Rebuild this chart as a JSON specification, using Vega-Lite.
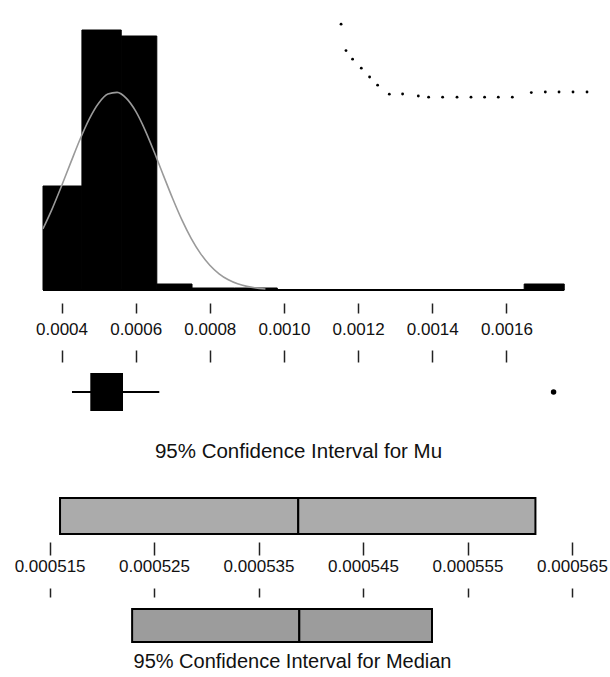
{
  "$schema": "https://vega.github.io/schema/vega-lite/v6.json",
  "background": "white",
  "padding": {"left": 14, "top": 20, "right": 0, "bottom": 0},
  "bounds": "flush",
  "spacing": 72,
  "config": {
    "view": {"stroke": null},
    "font": "Liberation Sans",
    "axis": {
      "labelFont": "Liberation Sans",
      "labelFontSize": 17,
      "labelColor": "#111111",
      "tickColor": "#222222",
      "tickWidth": 1.5,
      "grid": false,
      "domain": false,
      "labelFlush": false,
      "labelOverlap": false
    }
  },
  "datasets": {
    "histogram": [
      {"bin_start": 0.00035, "bin_end": 0.000455, "count": 52},
      {"bin_start": 0.000455, "bin_end": 0.000561, "count": 130},
      {"bin_start": 0.000561, "bin_end": 0.000657, "count": 127},
      {"bin_start": 0.000657, "bin_end": 0.000752, "count": 3},
      {"bin_start": 0.000752, "bin_end": 0.000867, "count": 1},
      {"bin_start": 0.000867, "bin_end": 0.000982, "count": 1},
      {"bin_start": 0.001648, "bin_end": 0.001756, "count": 3}
    ],
    "normal_fit": [
      {"x": 0.00035, "count": 30.6},
      {"x": 0.000375, "count": 40.7},
      {"x": 0.0004, "count": 52.0},
      {"x": 0.000425, "count": 63.8},
      {"x": 0.00045, "count": 75.4},
      {"x": 0.000475, "count": 85.6},
      {"x": 0.0005, "count": 93.4},
      {"x": 0.000525, "count": 98.0},
      {"x": 0.00055, "count": 98.8},
      {"x": 0.000575, "count": 95.8},
      {"x": 0.0006, "count": 89.4},
      {"x": 0.000625, "count": 80.1},
      {"x": 0.00065, "count": 69.0},
      {"x": 0.000675, "count": 57.2},
      {"x": 0.0007, "count": 45.6},
      {"x": 0.000725, "count": 34.9},
      {"x": 0.00075, "count": 25.7},
      {"x": 0.000775, "count": 18.2},
      {"x": 0.0008, "count": 12.4},
      {"x": 0.000825, "count": 8.1},
      {"x": 0.00085, "count": 5.1},
      {"x": 0.000875, "count": 3.1},
      {"x": 0.0009, "count": 1.8},
      {"x": 0.00095, "count": 0.5}
    ],
    "baseline": [
      {"from": 0.00035, "to": 0.001756, "level": 0}
    ],
    "trace": [
      {"x": 0.001154, "y": 132.9},
      {"x": 0.0011673, "y": 119.7},
      {"x": 0.0011851, "y": 115.4},
      {"x": 0.0012086, "y": 110.9},
      {"x": 0.001231, "y": 106.5},
      {"x": 0.0012526, "y": 102.4},
      {"x": 0.0012842, "y": 97.9},
      {"x": 0.00132, "y": 98.0},
      {"x": 0.0013624, "y": 97.0},
      {"x": 0.0013902, "y": 96.4},
      {"x": 0.001428, "y": 96.4},
      {"x": 0.0014668, "y": 96.4},
      {"x": 0.0015045, "y": 96.4},
      {"x": 0.0015412, "y": 96.4},
      {"x": 0.0015782, "y": 96.4},
      {"x": 0.001616, "y": 96.4},
      {"x": 0.0016672, "y": 98.7},
      {"x": 0.001705, "y": 99.0},
      {"x": 0.001742, "y": 99.0},
      {"x": 0.0017797, "y": 99.0},
      {"x": 0.0018175, "y": 99.0}
    ],
    "boxplot": [
      {"row": "Sample", "q1": 0.0004776, "q3": 0.0005658, "median": 0.000539, "lo": 0.0004282, "hi": 0.0006637}
    ],
    "outliers": [
      {"row": "Sample", "value": 0.0017273}
    ],
    "ci": [
      {"row": "Mu", "lo": 0.000516, "center": 0.0005388, "hi": 0.0005615},
      {"row": "Median", "lo": 0.0005229, "center": 0.0005389, "hi": 0.0005516}
    ]
  },
  "vconcat": [
    {
      "width": 519,
      "height": 270,
      "layer": [
        {
          "data": {"name": "histogram"},
          "mark": {"type": "rect", "fill": "black", "stroke": "black", "strokeWidth": 1},
          "encoding": {
            "x": {
              "field": "bin_start", "type": "quantitative",
              "scale": {"domain": [0.00035, 0.00175], "nice": false, "zero": false},
              "axis": {
                "orient": "bottom",
                "values": [0.0004, 0.0006, 0.0008, 0.001, 0.0012, 0.0014, 0.0016],
                "format": ".4f",
                "offset": 13,
                "tickSize": 10,
                "labelPadding": 8,
                "title": null
              }
            },
            "x2": {"field": "bin_end"},
            "y": {
              "field": "count", "type": "quantitative",
              "scale": {"domain": [0, 135], "nice": false},
              "axis": null
            },
            "y2": {"datum": 0}
          }
        },
        {
          "data": {"name": "baseline"},
          "mark": {"type": "rule", "color": "black", "strokeWidth": 2},
          "encoding": {
            "x": {"field": "from", "type": "quantitative"},
            "x2": {"field": "to"},
            "y": {"field": "level", "type": "quantitative"}
          }
        },
        {
          "data": {"name": "normal_fit"},
          "mark": {"type": "line", "color": "#9a9a9a", "strokeWidth": 1.6, "interpolate": "monotone"},
          "encoding": {
            "x": {"field": "x", "type": "quantitative"},
            "y": {"field": "count", "type": "quantitative"}
          }
        },
        {
          "data": {"name": "trace"},
          "mark": {"type": "point", "filled": true, "color": "black", "size": 8, "opacity": 1, "clip": false},
          "encoding": {
            "x": {"field": "x", "type": "quantitative"},
            "y": {"field": "y", "type": "quantitative"}
          }
        }
      ]
    },
    {
      "width": 519,
      "height": 49,
      "layer": [
        {
          "data": {"name": "boxplot"},
          "mark": {"type": "rule", "color": "black", "strokeWidth": 2},
          "encoding": {
            "x": {
              "field": "lo", "type": "quantitative",
              "scale": {"domain": [0.00035, 0.00175], "nice": false, "zero": false},
              "axis": {
                "orient": "top",
                "values": [0.0004, 0.0006, 0.0008, 0.001, 0.0012, 0.0014, 0.0016],
                "labels": false,
                "offset": 0,
                "tickSize": 12,
                "title": null
              }
            },
            "x2": {"field": "hi"},
            "y": {
              "field": "row", "type": "nominal",
              "scale": {"paddingInner": 0, "paddingOuter": 0.144737, "align": 1},
              "axis": null
            }
          }
        },
        {
          "data": {"name": "boxplot"},
          "mark": {"type": "rect", "color": "black"},
          "encoding": {
            "x": {"field": "q1", "type": "quantitative"},
            "x2": {"field": "q3"},
            "y": {"field": "row", "type": "nominal"}
          }
        },
        {
          "data": {"name": "outliers"},
          "mark": {"type": "point", "filled": true, "color": "black", "size": 30, "opacity": 1},
          "encoding": {
            "x": {"field": "value", "type": "quantitative"},
            "y": {"field": "row", "type": "nominal"}
          }
        }
      ]
    },
    {
      "width": 529,
      "height": 51,
      "title": {
        "text": "95% Confidence Interval for Mu",
        "orient": "top", "anchor": "middle", "frame": "group",
        "offset": 5, "baseline": "alphabetic",
        "font": "Liberation Sans", "fontSize": 20.5, "fontWeight": "normal", "color": "#111111",
        "dx": -9
      },
      "data": {"name": "ci"},
      "transform": [{"filter": "datum.row === 'Mu'"}],
      "layer": [
        {
          "mark": {"type": "rect", "fill": "#ababab", "stroke": "black", "strokeWidth": 2},
          "encoding": {
            "x": {
              "field": "lo", "type": "quantitative",
              "scale": {"domain": [0.00051437, 0.000565], "nice": false, "zero": false},
              "axis": {
                "orient": "bottom",
                "values": [0.000515, 0.000525, 0.000535, 0.000545, 0.000555, 0.000565],
                "format": ".6f",
                "offset": 8,
                "tickSize": 13,
                "labelPadding": 3,
                "title": null
              }
            },
            "x2": {"field": "center"},
            "y": {
              "field": "row", "type": "nominal",
              "scale": {"paddingInner": 0, "paddingOuter": 0.208333, "align": 1},
              "axis": null
            }
          }
        },
        {
          "mark": {"type": "rect", "fill": "#ababab", "stroke": "black", "strokeWidth": 2},
          "encoding": {
            "x": {"field": "center", "type": "quantitative"},
            "x2": {"field": "hi"},
            "y": {"field": "row", "type": "nominal"}
          }
        }
      ]
    },
    {
      "width": 529,
      "height": 36,
      "title": {
        "text": "95% Confidence Interval for Median",
        "orient": "bottom", "anchor": "middle", "frame": "group",
        "offset": 25, "baseline": "alphabetic",
        "font": "Liberation Sans", "fontSize": 20, "fontWeight": "normal", "color": "#111111",
        "dx": -15
      },
      "data": {"name": "ci"},
      "transform": [{"filter": "datum.row === 'Median'"}],
      "layer": [
        {
          "mark": {"type": "rect", "fill": "#9c9c9c", "stroke": "black", "strokeWidth": 2},
          "encoding": {
            "x": {
              "field": "lo", "type": "quantitative",
              "scale": {"domain": [0.00051437, 0.000565], "nice": false, "zero": false},
              "axis": {
                "orient": "top",
                "values": [0.000515, 0.000525, 0.000535, 0.000545, 0.000555, 0.000565],
                "labels": false,
                "offset": 9,
                "tickSize": 9,
                "title": null
              }
            },
            "x2": {"field": "center"},
            "y": {
              "field": "row", "type": "nominal",
              "scale": {"paddingInner": 0, "paddingOuter": 0.045455, "align": 1},
              "axis": null
            }
          }
        },
        {
          "mark": {"type": "rect", "fill": "#9c9c9c", "stroke": "black", "strokeWidth": 2},
          "encoding": {
            "x": {"field": "center", "type": "quantitative"},
            "x2": {"field": "hi"},
            "y": {"field": "row", "type": "nominal"}
          }
        }
      ]
    }
  ]
}
